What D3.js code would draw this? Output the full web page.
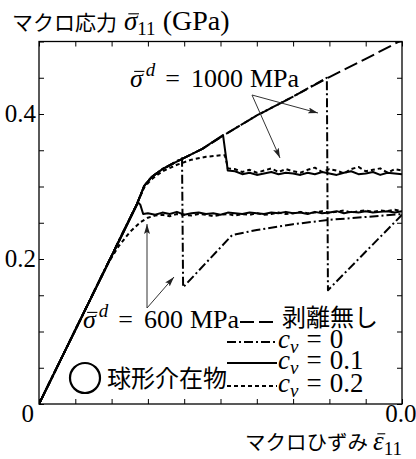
<!DOCTYPE html>
<html>
<head>
<meta charset="utf-8">
<script src="https://cdn.jsdelivr.net/npm/d3@7"></script>
<style>
  body { margin: 0; background: #fff; }
  svg { display: block; }
  .jp { font-family: "Noto Sans CJK JP", sans-serif; }
  .serif { font-family: "Liberation Serif", "Times New Roman", serif; }
</style>
</head>
<body>
<script>
// strain (-) / stress (GPa)
const strainNoDebond = [0, 0.0027, 0.0029, 0.0031, 0.0034, 0.0039, 0.0045, 0.0051, 0.0060, 0.0070, 0.0080, 0.0090, 0.0100];
const stressNoDebond = [0, 0.276, 0.301, 0.313, 0.324, 0.337, 0.352, 0.371, 0.398, 0.424, 0.451, 0.476, 0.502];

// c_v = 0, sigma_d = 1000 MPa
const strainCv0_1000 = [0, 0.0027, 0.0029, 0.0031, 0.0034, 0.0039, 0.0045, 0.0051, 0.0060, 0.0070, 0.00793, 0.00796, 0.0100];
const stressCv0_1000 = [0, 0.276, 0.301, 0.313, 0.324, 0.337, 0.352, 0.371, 0.398, 0.424, 0.450, 0.157, 0.261];
// c_v = 0, sigma_d = 600 MPa
const strainCv0_600 = [0, 0.0027, 0.0029, 0.0031, 0.0034, 0.00394, 0.00397, 0.00532, 0.0060, 0.0070, 0.0080, 0.0090, 0.0100];
const stressCv0_600 = [0, 0.276, 0.301, 0.313, 0.324, 0.339, 0.161, 0.233, 0.240, 0.248, 0.254, 0.258, 0.262];

const plateauStrain600 = [0.0030, 0.0032, 0.0034, 0.0036, 0.0038, 0.0040, 0.0042, 0.0044, 0.0046, 0.0048,
  0.0050, 0.0052, 0.0054, 0.0056, 0.0058, 0.0060, 0.0062, 0.0064, 0.0066, 0.0068,
  0.0070, 0.0072, 0.0074, 0.0076, 0.0078, 0.0080, 0.0082, 0.0084, 0.0086, 0.0088,
  0.0090, 0.0092, 0.0094, 0.0096, 0.0098, 0.0100];
const plateauStrain1000 = [0.0054, 0.0056, 0.0058, 0.0060, 0.0062, 0.0064, 0.0066, 0.0068,
  0.0070, 0.0072, 0.0074, 0.0076, 0.0078, 0.0080, 0.0082, 0.0084, 0.0086, 0.0088,
  0.0090, 0.0092, 0.0094, 0.0096, 0.0098, 0.0100];

// c_v = 0.1
const headStrainCv01_600 = [0, 0.00273, 0.00279, 0.00287];
const headStressCv01_600 = [0, 0.278, 0.275, 0.262];
const plateauCv01_600 = [0.263, 0.261, 0.264, 0.262, 0.265, 0.261, 0.263, 0.264, 0.262, 0.263,
  0.261, 0.264, 0.263, 0.262, 0.264, 0.263, 0.262, 0.264, 0.263, 0.265,
  0.263, 0.264, 0.262, 0.265, 0.263, 0.264, 0.266, 0.263, 0.265, 0.264,
  0.266, 0.264, 0.265, 0.266, 0.264, 0.266];
const headStrainCv01_1000 = [0, 0.0027, 0.0029, 0.0031, 0.0034, 0.0039, 0.0045, 0.00507, 0.00518, 0.0052];
const headStressCv01_1000 = [0, 0.276, 0.301, 0.313, 0.324, 0.337, 0.352, 0.371, 0.330, 0.322];
const plateauCv01_1000 = [0.321, 0.317, 0.319, 0.316, 0.318, 0.320, 0.317, 0.319, 0.318, 0.316,
  0.319, 0.317, 0.320, 0.318, 0.316, 0.319, 0.321, 0.317, 0.318, 0.320,
  0.316, 0.319, 0.318, 0.317];

// c_v = 0.2
const headStrainCv02_600 = [0, 0.0019, 0.0022, 0.0025, 0.0028];
const headStressCv02_600 = [0, 0.194, 0.218, 0.237, 0.251];
const plateauCv02_600 = [0.257, 0.260, 0.261, 0.259, 0.262, 0.261, 0.260, 0.262, 0.261, 0.259,
  0.261, 0.262, 0.260, 0.262, 0.261, 0.263, 0.261, 0.262, 0.264, 0.262,
  0.263, 0.265, 0.263, 0.264, 0.266, 0.264, 0.265, 0.267, 0.264, 0.266,
  0.267, 0.265, 0.267, 0.266, 0.268, 0.266];
const headStrainCv02_1000 = [0, 0.0027, 0.0029, 0.0031, 0.0034, 0.0038, 0.0042, 0.0046, 0.0050, 0.00512, 0.00518, 0.0052];
const headStressCv02_1000 = [0, 0.276, 0.299, 0.310, 0.321, 0.330, 0.337, 0.341, 0.343, 0.343, 0.331, 0.325];
const plateauCv02_1000 = [0.324, 0.320, 0.323, 0.319, 0.322, 0.325, 0.320, 0.324, 0.321, 0.319,
  0.323, 0.326, 0.320, 0.324, 0.322, 0.318, 0.324, 0.327, 0.321, 0.323,
  0.325, 0.319, 0.324, 0.322];

const xTickValues = [0, 0.001, 0.002, 0.003, 0.004, 0.005, 0.006, 0.007, 0.008, 0.009, 0.01];
const yTickValues = [0, 0.05, 0.1, 0.15, 0.2, 0.25, 0.3, 0.35, 0.4, 0.45, 0.5];
const yLabelValues = [0.2, 0.4];
const xLabelValues = [0.01];

const legendLabels = ["剥離無し", "0", "0.1", "0.2"];

const W = 416, H = 459;
const x = d3.scaleLinear().domain([0, 0.01]).range([39, 402]);
const y = d3.scaleLinear().domain([0, 0.5]).range([404, 41.5]);

const zip = (a, b) => a.map((v, i) => [v, b[i]]);

const dashStyle = {
  none: "14,5",
  cv0: "9,3,2,3",
  cv01: null,
  cv02: "4,3"
};

const series = [
  { key: "none", pts: zip(strainNoDebond, stressNoDebond) },
  { key: "cv0", pts: zip(strainCv0_1000, stressCv0_1000) },
  { key: "cv0", pts: zip(strainCv0_600, stressCv0_600) },
  { key: "cv02", pts: zip(headStrainCv02_600, headStressCv02_600).concat(zip(plateauStrain600, plateauCv02_600)) },
  { key: "cv02", pts: zip(headStrainCv02_1000, headStressCv02_1000).concat(zip(plateauStrain1000, plateauCv02_1000)) },
  { key: "cv01", pts: zip(headStrainCv01_600, headStressCv01_600).concat(zip(plateauStrain600, plateauCv01_600)) },
  { key: "cv01", pts: zip(headStrainCv01_1000, headStressCv01_1000).concat(zip(plateauStrain1000, plateauCv01_1000)) }
];

const svg = d3.select("body").append("svg")
  .attr("width", W)
  .attr("height", H);

const defs = svg.append("defs");
defs.append("clipPath").attr("id", "plotClip")
  .append("rect")
  .attr("x", x(0)).attr("y", y(0.5))
  .attr("width", x(0.01) - x(0)).attr("height", y(0) - y(0.5));
defs.append("marker")
  .attr("id", "arrow")
  .attr("viewBox", "0 -3 10 6")
  .attr("refX", 10).attr("refY", 0)
  .attr("markerWidth", 10).attr("markerHeight", 6)
  .attr("markerUnits", "userSpaceOnUse")
  .attr("orient", "auto")
  .append("path")
  .attr("d", "M0,-3L10,0L0,3L2,0Z")
  .attr("fill", "#222");

// writes a run of pieces one after another; bar = macron over the piece
function richText(g, x0, y0, pieces) {
  let cx = x0;
  pieces.forEach(p => {
    cx += p.dx || 0;
    const t = g.append("text")
      .attr("class", p.jp ? "jp" : "serif")
      .attr("x", cx).attr("y", y0 + (p.dy || 0))
      .attr("font-size", p.size)
      .attr("font-style", p.italic ? "italic" : null)
      .text(p.t);
    const w = t.node().getComputedTextLength();
    if (p.bar) {
      g.append("line")
        .attr("x1", cx + p.size * 0.16).attr("x2", cx + w + p.size * 0.06)
        .attr("y1", y0 - p.size * 0.6).attr("y2", y0 - p.size * 0.6)
        .attr("stroke", "#000").attr("stroke-width", 1.1);
    }
    cx += w;
  });
}

// axes, ticks pointing inward on all four sides
const axG = svg.append("g").attr("class", "axes");
axG.append("g").attr("transform", `translate(0,${y(0)})`)
  .call(d3.axisBottom(x).tickValues(xTickValues).tickSize(-5).tickFormat(""));
axG.append("g").attr("transform", `translate(0,${y(0.5)})`)
  .call(d3.axisTop(x).tickValues(xTickValues).tickSize(-5).tickFormat(""));
axG.append("g").attr("transform", `translate(${x(0)},0)`)
  .call(d3.axisLeft(y).tickValues(yTickValues).tickSize(-5).tickFormat(""));
axG.append("g").attr("transform", `translate(${x(0.01)},0)`)
  .call(d3.axisRight(y).tickValues(yTickValues).tickSize(-5).tickFormat(""));
axG.selectAll(".domain").remove();
axG.selectAll(".tick line").attr("stroke", "#000").attr("stroke-width", 1);

svg.append("rect")
  .attr("x", x(0)).attr("y", y(0.5))
  .attr("width", x(0.01) - x(0)).attr("height", y(0) - y(0.5))
  .attr("fill", "none").attr("stroke", "#000").attr("stroke-width", 1.3);

// tick labels
svg.append("g").selectAll("text").data(yLabelValues).enter().append("text")
  .attr("class", "serif")
  .attr("x", x(0) - 3).attr("y", d => y(d) + 8)
  .attr("text-anchor", "end").attr("font-size", 25)
  .text(d => d3.format(".1f")(d));
svg.append("text").attr("class", "serif")
  .attr("x", x(0) - 5).attr("y", y(0) + 18)
  .attr("text-anchor", "end").attr("font-size", 25).text("0");
svg.append("g").selectAll("text").data(xLabelValues).enter().append("text")
  .attr("class", "serif")
  .attr("x", d => x(d) + 5).attr("y", y(0) + 18)
  .attr("text-anchor", "middle").attr("font-size", 25)
  .text(d => d3.format(".2f")(d));

// curves
const line = d3.line().x(d => x(d[0])).y(d => y(d[1]));
svg.append("g").attr("clip-path", "url(#plotClip)")
  .selectAll("path").data(series).enter().append("path")
  .attr("d", d => line(d.pts))
  .attr("fill", "none")
  .attr("stroke", "#000")
  .attr("stroke-width", 2)
  .attr("stroke-linejoin", "round")
  .attr("stroke-dasharray", d => dashStyle[d.key]);

// arrows
const arrows = [
  [[252, 95], [318, 113]],
  [[252, 95], [280, 158]],
  [[147, 308], [147, 224]],
  [[147, 308], [174, 277]]
];
svg.append("g").selectAll("line").data(arrows).enter().append("line")
  .attr("x1", d => d[0][0]).attr("y1", d => d[0][1])
  .attr("x2", d => d[1][0]).attr("y2", d => d[1][1])
  .attr("stroke", "#333").attr("stroke-width", 1)
  .attr("marker-end", "url(#arrow)");

// sigma_d labels
const txt = svg.append("g");
function sigmaLabel(x0, y0, val) {
  richText(txt, x0, y0, [
    { t: "σ", size: 26, italic: true, bar: true },
    { t: "d", size: 19, italic: true, dy: -11, dx: 3 },
    { t: "=", size: 26, dx: 10 },
    { t: val, size: 26, dx: 11 },
    { t: "MPa", size: 26, dx: 7 }
  ]);
}
sigmaLabel(130, 87, "1000");
sigmaLabel(83, 328, "600");

// title and x label
richText(txt, 12, 30, [
  { t: "マクロ応力", size: 21, jp: true },
  { t: "σ", size: 27, italic: true, bar: true, dx: 7 },
  { t: "11", size: 19, dy: 5 },
  { t: "(GPa)", size: 28, dx: 7 }
]);
richText(txt, 245, 450, [
  { t: "マクロひずみ", size: 20.5, jp: true },
  { t: "ε", size: 27, italic: true, bar: true, dx: 5 },
  { t: "11", size: 19, dy: 5 }
]);

// legend
const legendKeys = ["none", "cv0", "cv01", "cv02"];
const legendLineY = [322, 342, 363, 386];
const legendTextY = [326, 348, 369, 392];
const lg = svg.append("g");
lg.selectAll("line").data(legendKeys).enter().append("line")
  .attr("x1", (d, i) => i === 0 ? 240 : 227).attr("x2", 277)
  .attr("y1", (d, i) => legendLineY[i]).attr("y2", (d, i) => legendLineY[i])
  .attr("stroke", "#000").attr("stroke-width", 2)
  .attr("stroke-dasharray", d => dashStyle[d]);
richText(lg, 282, legendTextY[0], [{ t: legendLabels[0], size: 24, jp: true }]);
legendLabels.slice(1).forEach((lab, j) => {
  richText(lg, 278, legendTextY[j + 1], [
    { t: "c", size: 27, italic: true },
    { t: "v", size: 19, italic: true, dy: 5 },
    { t: "=", size: 27, dx: 8 },
    { t: lab, size: 27, dx: 8 }
  ]);
});

// inclusion marker
svg.append("circle").attr("cx", 85).attr("cy", 378).attr("r", 15)
  .attr("fill", "none").attr("stroke", "#000").attr("stroke-width", 2.2);
richText(svg, 107, 387, [{ t: "球形介在物", size: 24, jp: true }]);
</script>
</body>
</html>
